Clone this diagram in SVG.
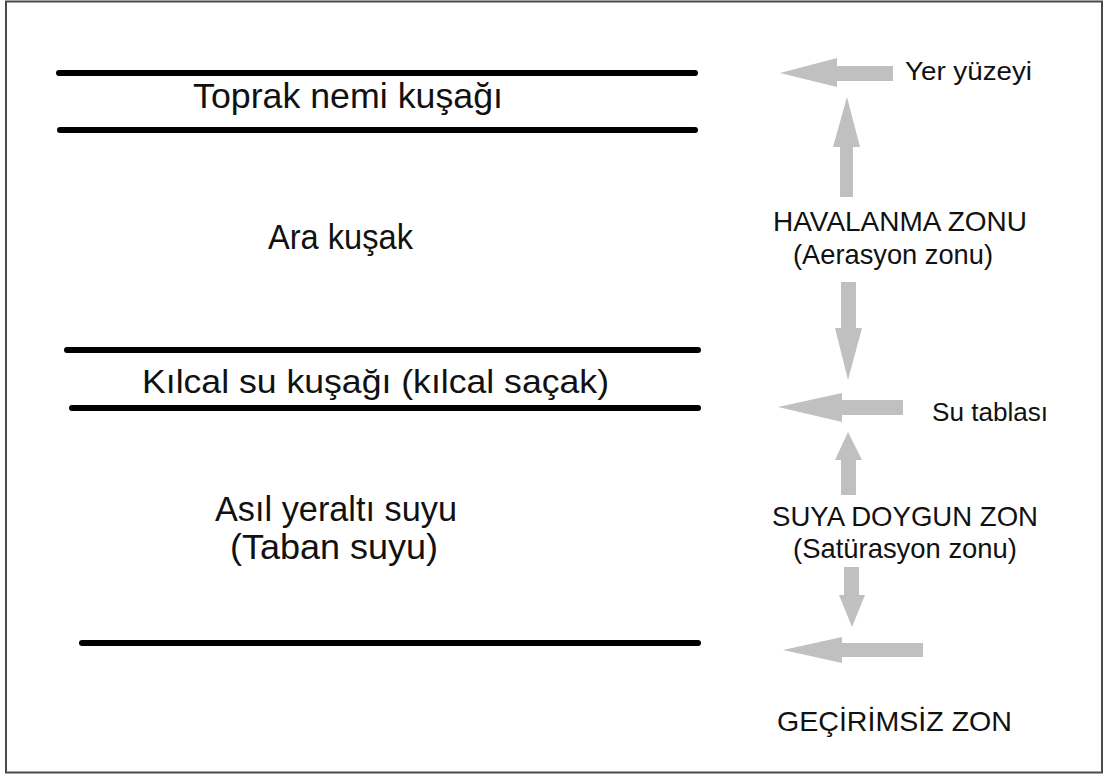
<svg xmlns="http://www.w3.org/2000/svg" width="1105" height="776" viewBox="0 0 1105 776">
<style>
.bd{fill:#fff;stroke:#4a4a4a;stroke-width:2}
.ln{stroke:#000;stroke-width:6;stroke-linecap:round;fill:none}
.ar{fill:#c0c0c0;stroke:none}
.t{font-family:"Liberation Sans",Arial,sans-serif;fill:#111}
.tl{font-size:35px}
.tr{font-size:28px}
</style>
<rect class="bd" x="6" y="1.5" width="1096" height="771"/>
<g id="lines">
<line class="ln" x1="59" y1="73" x2="695" y2="73"/>
<line class="ln" x1="60" y1="130" x2="695" y2="130"/>
<line class="ln" x1="67" y1="350" x2="698" y2="350"/>
<line class="ln" x1="72" y1="408" x2="698" y2="408"/>
<line class="ln" x1="82" y1="643" x2="698" y2="643"/>
</g>
<g id="zone-toprak"><text class="t tl" x="193" y="108" textLength="310" lengthAdjust="spacingAndGlyphs">Toprak nemi kuşağı</text></g>
<g id="zone-ara"><text class="t tl" x="268" y="249" textLength="145" lengthAdjust="spacingAndGlyphs">Ara kuşak</text></g>
<g id="zone-kilcal"><text class="t" font-size="33" x="142" y="393" textLength="467" lengthAdjust="spacingAndGlyphs">Kılcal su kuşağı (kılcal saçak)</text></g>
<g id="zone-asil">
<text class="t tl" x="215" y="521" textLength="242" lengthAdjust="spacingAndGlyphs">Asıl yeraltı suyu</text>
<text class="t tl" x="230" y="559" textLength="208" lengthAdjust="spacingAndGlyphs">(Taban suyu)</text>
</g>
<g id="label-yer"><text class="t" font-size="25" x="905" y="80" textLength="127" lengthAdjust="spacingAndGlyphs">Yer yüzeyi</text></g>
<g id="label-havalanma">
<text class="t tr" x="773" y="231" textLength="254" lengthAdjust="spacingAndGlyphs">HAVALANMA ZONU</text>
<text class="t tr" x="793" y="264" textLength="200" lengthAdjust="spacingAndGlyphs">(Aerasyon zonu)</text>
</g>
<g id="label-su-tablasi"><text class="t" font-size="25" x="932" y="421" textLength="116" lengthAdjust="spacingAndGlyphs">Su tablası</text></g>
<g id="label-suya-doygun">
<text class="t tr" x="772" y="526" textLength="266" lengthAdjust="spacingAndGlyphs">SUYA DOYGUN ZON</text>
<text class="t tr" x="793" y="558" textLength="224" lengthAdjust="spacingAndGlyphs">(Satürasyon zonu)</text>
</g>
<g id="label-gecirimsiz"><text class="t tr" x="777" y="731" textLength="235" lengthAdjust="spacingAndGlyphs">GEÇİRİMSİZ ZON</text></g>
<g id="connectors">
<polygon class="ar" points="780,73 837,58 837,66 893,66 893,81 837,81 837,87"/>
<polygon class="ar" points="847,97 860,147 853,147 853,197 840,197 840,147 833,147"/>
<polygon class="ar" points="848,380 862,328 856,328 856,282 841,282 841,328 835,328"/>
<polygon class="ar" points="778,407 842,393 842,400 903,400 903,415 842,415 842,422"/>
<polygon class="ar" points="848,432 862,460 856,460 856,495 841,495 841,460 835,460"/>
<polygon class="ar" points="852,627 865,595 859,595 859,567 844,567 844,595 839,595"/>
<polygon class="ar" points="783,650 842,637 842,643 923,643 923,657 842,657 842,663"/>
</g>
</svg>
